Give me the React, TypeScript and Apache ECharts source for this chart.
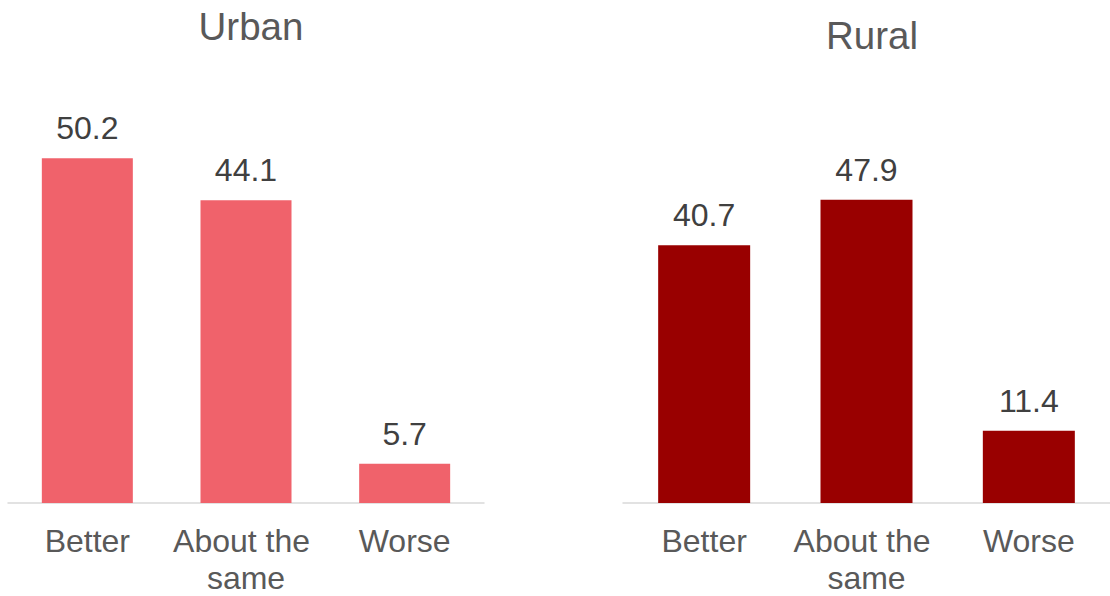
import React, { useEffect, useRef } from "react";
import * as echarts from "echarts";

const categories = ["Better", "About the same", "Worse"];
const urbanValues = [50.2, 44.1, 5.7];
const ruralValues = [40.7, 47.9, 11.4];
const panelTitles = ["Urban", "Rural"];

const FONT = "'Liberation Sans', Arial, sans-serif";

export default function App() {
  const ref = useRef<HTMLDivElement>(null);
  useEffect(() => {
    if (!ref.current) return;
    const chart = echarts.init(ref.current, undefined, { renderer: "svg" });
    const axisX = (gridIndex: number) => ({
      type: "category",
      gridIndex,
      data: categories,
      axisLine: { show: true, lineStyle: { color: "#d9d9d9", width: 1.5 } },
      axisTick: { show: false },
      axisLabel: {
        interval: 0,
        margin: 19,
        color: "#595959",
        fontSize: 32,
        fontFamily: FONT,
        lineHeight: 37,
        width: 155,
        overflow: "break",
      },
    });
    const axisY = (gridIndex: number) => ({
      type: "value",
      gridIndex,
      min: 0,
      max: 60,
      show: false,
      splitLine: { show: false },
    });
    const label = {
      show: true,
      position: "top",
      distance: 14,
      color: "#404040",
      fontSize: 32,
      fontFamily: FONT,
    };
    chart.setOption({
      animation: false,
      grid: [
        { left: 8, width: 476, top: 91, height: 412 },
        { left: 623, width: 487, top: 123, height: 382 },
      ],
      xAxis: [axisX(0), axisX(1)],
      yAxis: [axisY(0), axisY(1)],
      series: [
        {
          type: "bar",
          xAxisIndex: 0,
          yAxisIndex: 0,
          data: urbanValues,
          barWidth: 91,
          itemStyle: { color: "#F0626B" },
          label,
        },
        {
          type: "bar",
          xAxisIndex: 1,
          yAxisIndex: 1,
          data: ruralValues,
          barWidth: 92,
          itemStyle: { color: "#990000" },
          label,
        },
      ],
      graphic: [
        {
          type: "text",
          x: 251,
          y: 26,
          style: {
            text: panelTitles[0],
            fill: "#595959",
            fontSize: 38.5,
            fontFamily: FONT,
            textAlign: "center",
            textVerticalAlign: "middle",
          },
        },
        {
          type: "text",
          x: 872,
          y: 35,
          style: {
            text: panelTitles[1],
            fill: "#595959",
            fontSize: 38.5,
            fontFamily: FONT,
            textAlign: "center",
            textVerticalAlign: "middle",
          },
        },
      ],
    });
    return () => chart.dispose();
  }, []);
  return (
    <div
      ref={ref}
      style={{ position: "absolute", left: 0, top: 0, width: 1110, height: 596 }}
    />
  );
}
